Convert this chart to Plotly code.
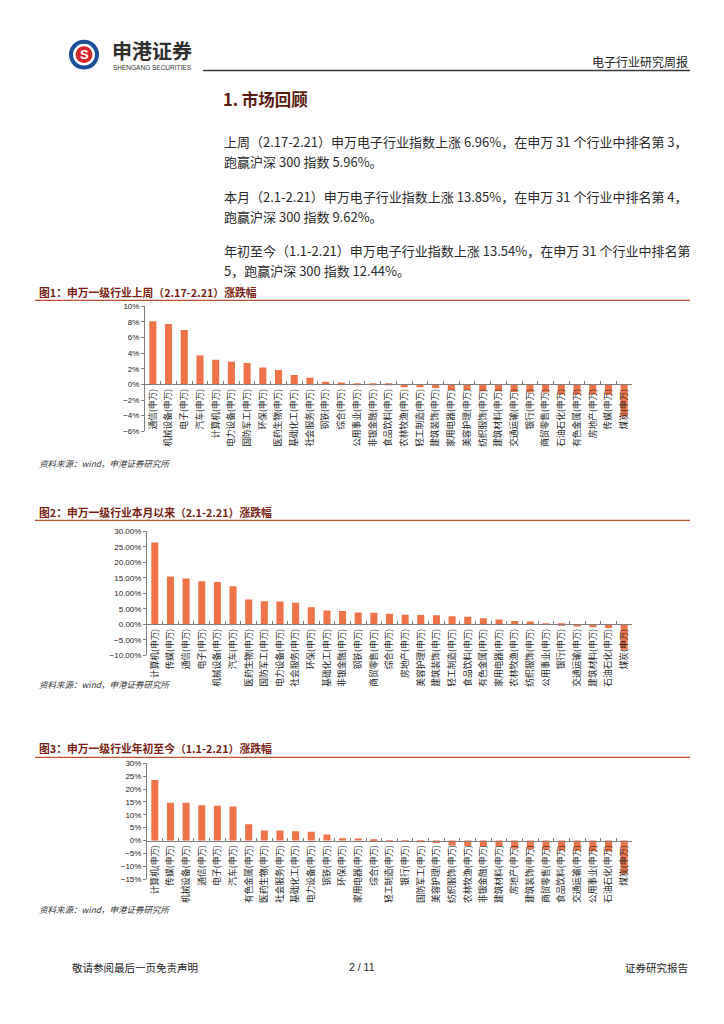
import plotly.graph_objects as go

# page is 724x1024; the browser adds an 8px body margin, so the figure is 716x1016
OFF = 8
W, H = 724 - 2 * OFF, 1024 - 2 * OFF

# ---------------- data ----------------
week_cats = ["通信", "机械设备", "电子", "汽车", "计算机", "电力设备", "国防军工", "环保", "医药生物", "基础化工",
             "社会服务", "钢铁", "综合", "公用事业", "非银金融", "食品饮料", "农林牧渔", "轻工制造", "建筑装饰", "家用电器",
             "美容护理", "纺织服饰", "建筑材料", "交通运输", "银行", "商贸零售", "石油石化", "有色金属", "房地产", "传媒", "煤炭"]
week_vals = [8.10, 7.75, 6.96, 3.70, 3.15, 2.90, 2.75, 2.15, 1.85, 1.20,
             0.85, 0.35, 0.25, 0.15, 0.10, 0.05, -0.35, -0.35, -0.46, -0.72,
             -0.72, -0.89, -0.89, -0.97, -1.05, -1.05, -1.30, -1.30, -1.30, -1.32, -4.10]

month_cats = ["计算机", "传媒", "通信", "电子", "机械设备", "汽车", "医药生物", "国防军工", "电力设备", "社会服务",
              "环保", "基础化工", "非银金融", "钢铁", "商贸零售", "综合", "房地产", "美容护理", "建筑装饰", "轻工制造",
              "食品饮料", "有色金属", "家用电器", "农林牧渔", "纺织服饰", "公用事业", "银行", "交通运输", "建筑材料", "石油石化", "煤炭"]
month_vals = [26.4, 15.4, 14.8, 13.85, 13.6, 12.3, 8.0, 7.4, 7.35, 6.9,
              5.5, 4.4, 4.3, 3.8, 3.7, 3.4, 3.1, 3.0, 2.9, 2.6,
              2.45, 1.9, 1.5, 1.07, 0.85, 0.2, -0.5, -0.75, -0.95, -1.2, -8.2]

ytd_cats = ["计算机", "传媒", "机械设备", "通信", "电子", "汽车", "有色金属", "医药生物", "社会服务", "基础化工",
            "电力设备", "钢铁", "环保", "家用电器", "综合", "轻工制造", "银行", "国防军工", "美容护理", "纺织服饰",
            "农林牧渔", "非银金融", "建筑材料", "房地产", "建筑装饰", "商贸零售", "食品饮料", "交通运输", "公用事业", "石油石化", "煤炭"]
ytd_vals = [23.5, 14.7, 14.7, 13.7, 13.54, 13.2, 6.3, 3.9, 3.9, 3.6,
            3.4, 2.3, 0.9, 0.8, 0.4, 0.05, -0.05, -0.5, -1.0, -1.9,
            -2.1, -2.3, -2.3, -3.2, -3.4, -3.6, -3.9, -4.0, -4.3, -4.3, -12.8]

suffix = "(申万)"

# ---------------- style ----------------
BAR = "#EF7349"
AXIS = "#7f7f7f"
TITLE_RED = "#7a1e14"
LINE_RED = "#bd5130"
CJK = "Noto Sans CJK SC"
LAT = "Liberation Sans, Arial, sans-serif"

def px_x(x):
    return (x - OFF) / W

def px_y(y):
    return 1 - (y - OFF) / H

fig = go.Figure()

charts = [
    # cats, vals, yrange, dtick, tickformat, px top, px bottom, px left
    (week_cats, week_vals, [-6, 10], 2, "d", 305, 431, 145),
    (month_cats, month_vals, [-10, 30], 5, ".2f", 532, 657, 147),
    (ytd_cats, ytd_vals, [-15, 30], 5, "d", 766, 883, 147),
]
RIGHT = 632

for i, (cats, vals, yr, dt, tf, ptop, pbot, pleft) in enumerate(charts, start=1):
    xa = "x" if i == 1 else f"x{i}"
    ya = "y" if i == 1 else f"y{i}"
    fig.add_trace(go.Bar(
        x=[c + suffix for c in cats], y=vals,
        marker=dict(color=BAR, line=dict(width=0)),
        xaxis=xa, yaxis=ya, showlegend=False, hoverinfo="x+y",
    ))
    d0, d1 = px_y(pbot), px_y(ptop)
    zero_pos = d0 + (0 - yr[0]) / (yr[1] - yr[0]) * (d1 - d0)
    xkey = "xaxis" if i == 1 else f"xaxis{i}"
    ykey = "yaxis" if i == 1 else f"yaxis{i}"
    fig.update_layout(**{
        xkey: dict(
            domain=[px_x(pleft), px_x(RIGHT)], anchor="free", position=zero_pos,
            type="category", showline=True, linecolor=AXIS, linewidth=1,
            ticks="inside", ticklen=3, tickcolor=AXIS, tickson="boundaries",
            tickangle=-90, tickfont=dict(family=CJK, size=8.7, color="#222"),
            showgrid=False, zeroline=False, fixedrange=True,
        ),
        ykey: dict(
            domain=[d0, d1], anchor=xa, range=yr, dtick=dt, tickformat=tf,
            ticksuffix="%", showline=True, linecolor=AXIS, linewidth=1,
            ticks="outside", ticklen=3, tickcolor=AXIS,
            tickfont=dict(family=LAT, size=8, color="#222"),
            showgrid=False, zeroline=False, fixedrange=True,
        ),
    })

fig.update_layout(bargap=0.55)

shapes = []
ann = []

def text(x, y, s, size, color="#222", anchor="left", family=CJK, bold=False, italic=False):
    t = s
    if bold:
        t = f"<b>{t}</b>"
    if italic:
        t = f"<i>{t}</i>"
    ann.append(dict(x=px_x(x), y=px_y(y), xref="paper", yref="paper", text=t, showarrow=False,
                    xanchor=anchor, yanchor="middle", font=dict(family=family, size=size, color=color)))

def hline(x0, x1, y, color, width):
    shapes.append(dict(type="line", xref="paper", yref="paper", x0=px_x(x0), x1=px_x(x1),
                       y0=px_y(y), y1=px_y(y), line=dict(color=color, width=width)))

# header / logo
shapes.append(dict(type="circle", xref="paper", yref="paper", x0=px_x(69), x1=px_x(99),
                   y0=px_y(66), y1=px_y(36), fillcolor="#1b4f9c", line=dict(width=0)))
shapes.append(dict(type="circle", xref="paper", yref="paper", x0=px_x(73), x1=px_x(95),
                   y0=px_y(62), y1=px_y(40), fillcolor="white", line=dict(width=0)))
shapes.append(dict(type="circle", xref="paper", yref="paper", x0=px_x(75.5), x1=px_x(92.5),
                   y0=px_y(59.5), y1=px_y(42.5), fillcolor="#d7262b", line=dict(width=0)))
text(84, 51, "S", 13, color="white", anchor="center", family=LAT, bold=True)
text(110, 47, "申港证券", 20, color="#2e2e2e", bold=True)
text(111, 64, "SHENGANG SECURITIES", 6.5, color="#333", family=LAT)
hline(203, 690, 67, "#3a3a3a", 1.5)
text(690, 58, "电子行业研究周报", 12, color="#222", anchor="right")

# section heading + paragraphs
text(221, 96, "1. 市场回顾", 16.5, color="#5a1a0c", bold=True)
paras = [
    (139, "上周（2.17-2.21）申万电子行业指数上涨 6.96%，在申万 31 个行业中排名第 3，"),
    (159, "跑赢沪深 300 指数 5.96%。"),
    (194, "本月（2.1-2.21）申万电子行业指数上涨 13.85%，在申万 31 个行业中排名第 4，"),
    (214, "跑赢沪深 300 指数 9.62%。"),
    (249, "年初至今（1.1-2.21）申万电子行业指数上涨 13.54%，在申万 31 个行业中排名第"),
    (269, "5，跑赢沪深 300 指数 12.44%。"),
]
for y, s in paras:
    text(222, y, s, 13, color="#2a2a2a")

# chart titles, rules and sources
titles = [
    (291, 299, 463, "图1：申万一级行业上周（2.17-2.21）涨跌幅"),
    (512, 521, 686, "图2：申万一级行业本月以来（2.1-2.21）涨跌幅"),
    (751, 760, 913, "图3：申万一级行业年初至今（1.1-2.21）涨跌幅"),
]
for ty, ly, sy, s in titles:
    text(37, ty, s, 10.8, color=TITLE_RED, bold=True)
    hline(35, 690, ly, LINE_RED, 1.2)
    text(37, sy, "资料来源：wind，申港证券研究所", 8.5, color="#333", italic=True)

# footer
text(70, 972, "敬请参阅最后一页免责声明", 10.5, color="#222")
text(362, 972, "2 / 11", 10.5, color="#222", anchor="center", family=LAT)
text(690, 972, "证券研究报告", 10.5, color="#222", anchor="right")

fig.update_layout(
    width=W, height=H, margin=dict(l=0, r=0, t=0, b=0),
    paper_bgcolor="white", plot_bgcolor="white",
    shapes=shapes, annotations=ann, showlegend=False,
)

fig.write_html("out.html", config={"displayModeBar": False})
